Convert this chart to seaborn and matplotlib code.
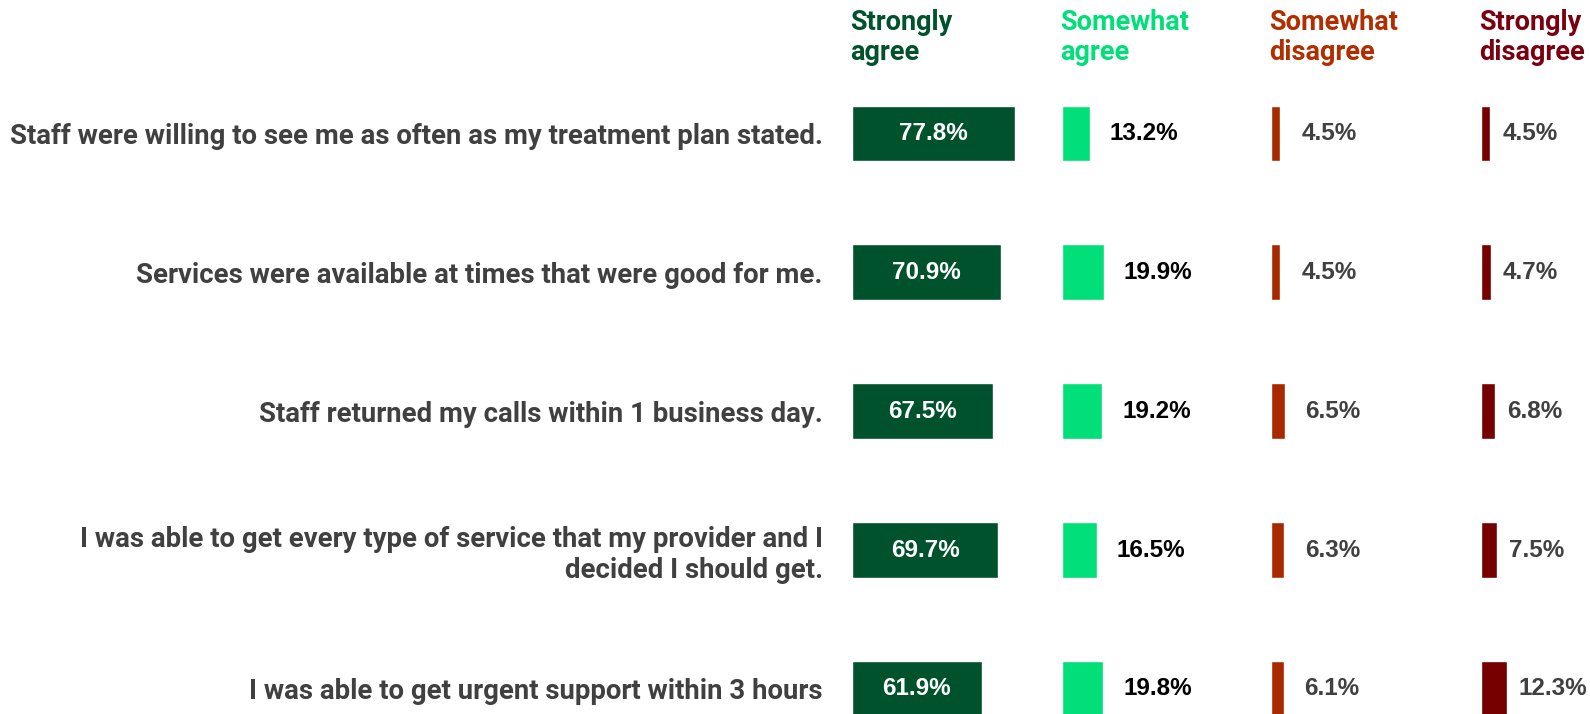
import seaborn as sns
import matplotlib.pyplot as plt
import pandas as pd

# survey statements
categories = [
    "Staff were willing to see me as often as my treatment plan stated.",
    "Services were available at times that were good for me.",
    "Staff returned my calls within 1 business day.",
    "I was able to get every type of service that my provider and I\ndecided I should get.",
    "I was able to get urgent support within 3 hours",
]

strongly_agree = [77.8, 70.9, 67.5, 69.7, 61.9]
somewhat_agree = [13.2, 19.9, 19.2, 16.5, 19.8]
somewhat_disagree = [4.5, 4.5, 6.5, 6.3, 6.1]
strongly_disagree = [4.5, 4.7, 6.8, 7.5, 12.3]

headers = ["Strongly\nagree", "Somewhat\nagree", "Somewhat\ndisagree", "Strongly\ndisagree"]
bar_colors = ["#00522D", "#00DF78", "#A82800", "#760000"]
header_colors = ["#00522D", "#00DF78", "#B02E00", "#7A0010"]
value_colors = ["white", "black", "#404040", "#404040"]

sns.set_theme(style="white")
plt.rcParams["font.family"] = ["Roboto", "DejaVu Sans"]
value_font = ["Liberation Sans", "DejaVu Sans"]

W, H = 1590, 714
fig = plt.figure(figsize=(W / 100, H / 100), dpi=100)

# column layout in pixels: left edge, width, label offset (pt)
col_px = [(852, 210, 0), (1062, 209, 14.5), (1271, 210, 15), (1481, 109, 8.5)]
px_per_pct = 2.095
ax_top, ax_bottom = 63.9, 714

series = [strongly_agree, somewhat_agree, somewhat_disagree, strongly_disagree]
axes = []
for i, (left, width, offset) in enumerate(col_px):
    ax = fig.add_axes([left / W, (H - ax_bottom) / H, width / W, (ax_bottom - ax_top) / H])
    df = pd.DataFrame({"statement": categories, "pct": series[i]})
    sns.barplot(data=df, x="pct", y="statement", orient="h", color=bar_colors[i],
                width=0.4, saturation=1, ax=ax)
    ax.set_xlim(0, width / px_per_pct)
    ax.set_ylim(4.18, -0.5)
    ax.set_xlabel("")
    ax.set_ylabel("")
    ax.set_xticks([])
    sns.despine(ax=ax, left=True, bottom=True)
    ax.patch.set_alpha(0)

    for j, v in enumerate(series[i]):
        if i == 0:
            ax.text(v / 2, j, f"{v:.1f}%", ha="center", va="center", color=value_colors[i],
                    fontsize=17.5, fontweight="bold", family=value_font)
        else:
            ax.annotate(f"{v:.1f}%", (v, j), xytext=(offset, 0), textcoords="offset points",
                        ha="left", va="center", color=value_colors[i],
                        fontsize=17.5, fontweight="bold", family=value_font)

    fig.text((left - 2) / W, 1 - 9 / H, headers[i], ha="left", va="top",
             color=header_colors[i], fontsize=19.5, fontweight="bold", linespacing=1.12)
    axes.append(ax)

# statement labels on the first column only
axes[0].tick_params(axis="y", length=0, pad=21)
for lbl in axes[0].get_yticklabels():
    lbl.set_fontsize(19.8)
    lbl.set_fontweight("bold")
    lbl.set_color("#404040")
    lbl.set_multialignment("right")
for ax in axes[1:]:
    ax.set_yticks([])

fig.savefig("out.png", dpi=100)
